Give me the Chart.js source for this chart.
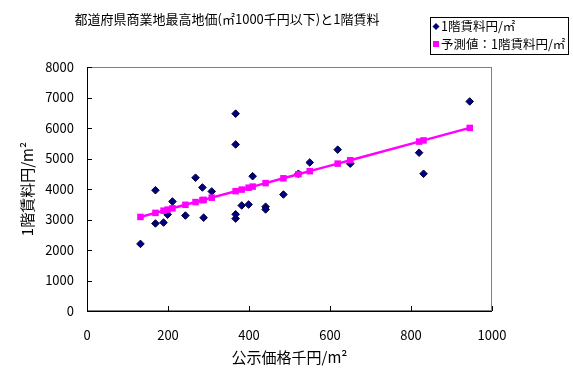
<!DOCTYPE html>
<html>
<head>
<meta charset="utf-8">
<script src="https://cdn.jsdelivr.net/npm/chart.js@4/dist/chart.umd.min.js"></script>
<style>
  html, body { margin: 0; padding: 0; background: #fff; }
</style>
</head>
<body>
<canvas id="myChart" width="573" height="384"></canvas>
<script>
// 公示価格(千円/m2) と 1階賃料(円/m2)
const landPrice = [132, 169, 169, 189, 199, 211, 243, 268, 285, 288, 308, 367, 367, 367, 367, 382, 399, 409, 441, 441, 485, 522, 550, 619, 650, 820, 831, 945];
const rent      = [2200, 3960, 2870, 2900, 3160, 3590, 3130, 4370, 4050, 3060, 3920, 6470, 5460, 3170, 3030, 3460, 3490, 4420, 3420, 3330, 3820, 4500, 4870, 5290, 4830, 5190, 4500, 6870];

// 予測値
const predPrice = [132, 169, 189, 199, 211, 243, 268, 285, 288, 308, 367, 382, 399, 409, 441, 485, 522, 550, 619, 650, 820, 831, 945];
const predRent  = [3084, 3217, 3289, 3324, 3367, 3482, 3572, 3633, 3644, 3716, 3928, 3981, 4042, 4078, 4193, 4351, 4484, 4585, 4832, 4944, 5554, 5593, 6003];

const xTicks = [0, 200, 400, 600, 800, 1000];
const yTicks = [0, 1000, 2000, 3000, 4000, 5000, 6000, 7000, 8000];

const chartTitle = '都道府県商業地最高地価(㎡1000千円以下)と1階賃料';
const xTitle = '公示価格千円/m²';
const yTitle = '1階賃料円/m²';
const legendLabels = ['1階賃料円/㎡', '予測値：1階賃料円/㎡'];

const navy = '#000080';
const magenta = '#FF00FF';
const fontFamily = '"Noto Sans CJK JP", "Noto Sans", sans-serif';

// 枠・内向き目盛・タイトル・凡例を描く
const decorations = {
    id: 'decorations',
    beforeDatasetsDraw(chart) {
        const { ctx, chartArea: a, scales } = chart;
        ctx.save();
        ctx.strokeStyle = '#808080';
        ctx.lineWidth = 1;
        ctx.strokeRect(a.left + 0.5, a.top + 0.5, a.right - a.left - 1, a.bottom - a.top - 1);

        ctx.strokeStyle = '#000';
        ctx.beginPath();
        ctx.moveTo(a.left + 0.5, a.top);
        ctx.lineTo(a.left + 0.5, a.bottom + 0.5);
        ctx.lineTo(a.right, a.bottom + 0.5);
        yTicks.forEach(v => {
            const y = Math.round(scales.y.getPixelForValue(v)) + 0.5;
            ctx.moveTo(a.left, y);
            ctx.lineTo(a.left + 5, y);
        });
        xTicks.forEach(v => {
            const x = Math.round(scales.x.getPixelForValue(v)) + 0.5;
            ctx.moveTo(x, a.bottom);
            ctx.lineTo(x, a.bottom - 5);
        });
        ctx.stroke();
        ctx.restore();
    },
    afterDraw(chart) {
        const { ctx, chartArea: a } = chart;
        ctx.save();
        ctx.fillStyle = '#000';
        ctx.textBaseline = 'middle';

        // タイトル
        ctx.font = '13px ' + fontFamily;
        ctx.textAlign = 'center';
        ctx.fillText(chartTitle, 227, 19);

        // 軸タイトル
        ctx.font = '15px ' + fontFamily;
        ctx.fillText(xTitle, (a.left + a.right) / 2, 357);
        ctx.save();
        ctx.translate(27, (a.top + a.bottom) / 2);
        ctx.rotate(-Math.PI / 2);
        ctx.fillText(yTitle, 0, 0);
        ctx.restore();

        // 凡例
        ctx.fillStyle = '#fff';
        ctx.fillRect(430, 17, 139, 38);
        ctx.strokeStyle = '#000';
        ctx.lineWidth = 1;
        ctx.strokeRect(430.5, 17.5, 138, 37);

        ctx.font = '12.5px ' + fontFamily;
        ctx.textAlign = 'left';
        ctx.fillStyle = navy;
        ctx.beginPath();
        ctx.moveTo(436, 23); ctx.lineTo(439.5, 26.5); ctx.lineTo(436, 30); ctx.lineTo(432.5, 26.5);
        ctx.closePath();
        ctx.fill();
        ctx.fillStyle = magenta;
        ctx.fillRect(433, 41, 6, 6);
        ctx.fillStyle = '#000';
        ctx.fillText(legendLabels[0], 441, 26.5);
        ctx.fillText(legendLabels[1], 441, 44.5);
        ctx.restore();
    }
};

const ctx = document.getElementById('myChart').getContext('2d');

new Chart(ctx, {
    type: 'scatter',
    data: {
        datasets: [{
            label: legendLabels[0],
            data: landPrice.map((x, i) => ({ x: x, y: rent[i] })),
            pointStyle: 'rectRot',
            pointRadius: 3.8,
            backgroundColor: navy,
            borderColor: '#000040',
            borderWidth: 1,
            order: 2
        }, {
            label: legendLabels[1],
            data: predPrice.map((x, i) => ({ x: x, y: predRent[i] })),
            showLine: true,
            borderColor: magenta,
            borderWidth: 2.5,
            pointStyle: 'rect',
            pointRadius: 4.6,
            pointBackgroundColor: magenta,
            pointBorderColor: magenta,
            pointBorderWidth: 0,
            order: 1
        }]
    },
    options: {
        responsive: false,
        animation: false,
        devicePixelRatio: 1,
        layout: { padding: { top: 67, right: 81, left: 0, bottom: 0 } },
        scales: {
            x: {
                type: 'linear',
                min: 0,
                max: 1000,
                afterBuildTicks: scale => { scale.ticks = xTicks.map(v => ({ value: v })); },
                afterFit: scale => { scale.height = 73; },
                ticks: {
                    color: '#000',
                    font: { family: fontFamily, size: 13 },
                    padding: 16,
                    maxRotation: 0,
                    callback: value => String(value)
                },
                grid: { display: false, drawTicks: false },
                border: { display: false }
            },
            y: {
                type: 'linear',
                min: 0,
                max: 8000,
                afterBuildTicks: scale => { scale.ticks = yTicks.map(v => ({ value: v })); },
                afterFit: scale => { scale.width = 87; },
                ticks: {
                    color: '#000',
                    font: { family: fontFamily, size: 13 },
                    padding: 13,
                    callback: value => String(value)
                },
                grid: { display: false, drawTicks: false },
                border: { display: false }
            }
        },
        plugins: {
            legend: { display: false },
            tooltip: { enabled: false }
        }
    },
    plugins: [decorations]
});
</script>
</body>
</html>
